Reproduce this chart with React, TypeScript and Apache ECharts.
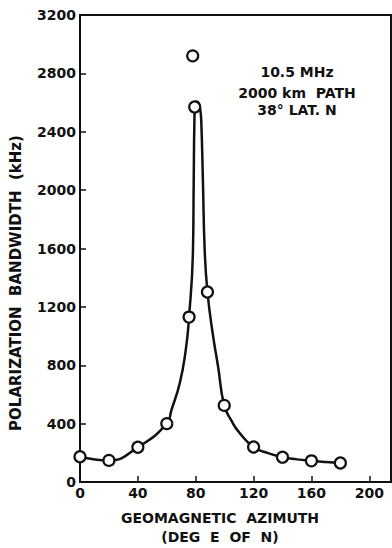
import React, { useEffect, useRef } from "react";
import * as echarts from "echarts";

const xTicks = [0, 40, 80, 120, 160, 200];
const yTicks = [0, 400, 800, 1200, 1600, 2000, 2400, 2800, 3200];

const azimuthPts = [0, 20, 40, 60, 75.4, 77.9, 79.3, 88.1, 99.7, 120, 140, 160, 180];
const bandwidthPts = [173, 148, 238, 400, 1130, 2920, 2570, 1302, 525, 240, 170, 145, 130];

const curveAzimuth = [0, 20, 40, 60, 63.2, 69, 73.1, 75.4, 78.1, 78.6, 79.1, 79.6, 80.6, 81.8, 83.0, 83.8, 85.0, 86.2, 88.1, 91.7, 95.5, 99.7, 105, 110, 120, 130, 140, 150, 160, 170, 180];
const curveBandwidth = [173, 148, 238, 400, 493, 678, 904, 1130, 1590, 2050, 2480, 2570, 2605, 2600, 2560, 2480, 2050, 1590, 1302, 1021, 788, 525, 415, 340, 240, 198, 170, 155, 145, 137, 130];

const annotation = ["10.5 MHz", "2000 km  PATH", "38° LAT. N"];
const yName = "POLARIZATION  BANDWIDTH  (kHz)";
const xName1 = "GEOMAGNETIC  AZIMUTH";
const xName2 = "(DEG  E  OF  N)";

const FONT = "'DejaVu Sans', sans-serif";
const INK = "#111";

export default function App() {
  const ref = useRef<HTMLDivElement>(null);
  useEffect(() => {
    if (!ref.current) return;
    const chart = echarts.init(ref.current, null, { renderer: "svg" });
    const pts = azimuthPts.map((x, i) => [x, bandwidthPts[i]]);
    const curve = curveAzimuth.map((x, i) => [x, curveBandwidth[i]]);
    chart.setOption({
      animation: false,
      backgroundColor: "#fff",
      grid: {
        left: 80,
        right: 1,
        top: 15,
        bottom: 66,
        show: true,
        borderColor: INK,
        borderWidth: 2,
      },
      xAxis: {
        type: "value",
        min: 0,
        max: 215,
        interval: 40,
        splitLine: { show: false },
        axisLine: { show: true, lineStyle: { color: INK, width: 2 } },
        axisTick: { show: true, inside: true, length: 6, lineStyle: { color: INK, width: 1.5 } },
        axisLabel: {
          show: true,
          margin: 4,
          color: INK,
          fontFamily: FONT,
          fontWeight: "bold",
          fontSize: 14,
          showMaxLabel: false,
          formatter: (v: number) => (xTicks.includes(v) ? String(v) : ""),
        },
      },
      yAxis: {
        type: "value",
        min: 0,
        max: 3200,
        interval: 400,
        splitLine: { show: false },
        axisLine: { show: true, lineStyle: { color: INK, width: 2 } },
        axisTick: { show: true, inside: true, length: 6, lineStyle: { color: INK, width: 1.5 } },
        axisLabel: {
          margin: 4,
          color: INK,
          fontFamily: FONT,
          fontWeight: "bold",
          fontSize: 14,
          formatter: (v: number) => (yTicks.includes(v) ? String(v) : ""),
        },
      },
      series: [
        {
          type: "line",
          data: curve,
          showSymbol: false,
          smooth: 0.5,
          lineStyle: { color: INK, width: 2.5 },
          z: 2,
        },
        {
          type: "scatter",
          data: pts,
          symbol: "circle",
          symbolSize: 11,
          itemStyle: { color: "#fff", borderColor: INK, borderWidth: 2.2, opacity: 1 },
          z: 3,
        },
      ],
      graphic: [
        ...annotation.map((t, i) => ({
          type: "text",
          x: 297,
          y: [72, 93, 110][i],
          style: {
            text: t,
            fill: INK,
            font: `bold 14px ${FONT}`,
            align: "center",
            verticalAlign: "middle",
          },
        })),
        {
          type: "text",
          x: 16,
          y: 283,
          rotation: Math.PI / 2,
          style: {
            text: yName,
            fill: INK,
            font: `bold 15px ${FONT}`,
            align: "center",
            verticalAlign: "middle",
          },
        },
        {
          type: "text",
          x: 220,
          y: 518,
          style: {
            text: xName1,
            fill: INK,
            font: `bold 14px ${FONT}`,
            align: "center",
            verticalAlign: "middle",
          },
        },
        {
          type: "text",
          x: 220,
          y: 537,
          style: {
            text: xName2,
            fill: INK,
            font: `bold 14px ${FONT}`,
            align: "center",
            verticalAlign: "middle",
          },
        },
      ],
    });
    return () => chart.dispose();
  }, []);
  return <div ref={ref} style={{ width: 392, height: 548, position: "fixed", left: 0, top: 0 }} />;
}
